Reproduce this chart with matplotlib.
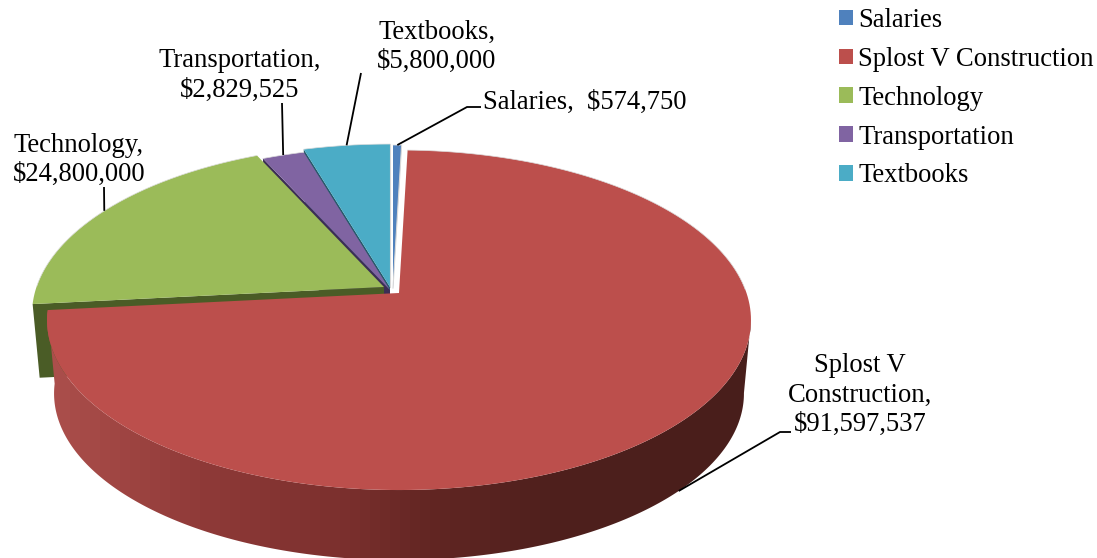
import matplotlib
matplotlib.use("Agg")
import matplotlib.pyplot as plt
from matplotlib.patches import Patch, Polygon
from matplotlib.colors import to_rgb
import numpy as np

plt.rcParams['font.family'] = ['Liberation Serif', 'DejaVu Serif']

categories = ['Salaries', 'Splost V Construction', 'Technology', 'Transportation', 'Textbooks']
amounts = [574750, 91597537, 24800000, 2829525, 5800000]
slice_labels = ['Salaries,  $574,750', 'Splost V\nConstruction,\n$91,597,537',
                'Technology,\n$24,800,000', 'Transportation,\n$2,829,525',
                'Textbooks,\n$5,800,000']
colors = ['#4F81BD', '#BC4F4C', '#9BBB59', '#8064A2', '#4BACC6']
cut_colors = [None, None, '#4A5C26', '#3C2E55', '#25596A']

# where each exploded slice has its apex
apex = {0: (393, 288), 1: (399, 293), 2: (384, 287), 3: (390, 290), 4: (390, 287)}

# perspective disc
RX, RY, TILT = 347.5, 165.7, 0.159
DEPTH, BOTTOM_SCALE = 74, 0.98

FS = 19.2

def rim(theta, center, bottom=False):
    # theta in degrees, clockwise from twelve o'clock
    t = np.radians(theta)
    u, v = np.sin(t), np.cos(t)
    w = 1 + TILT * v
    s = BOTTOM_SCALE if bottom else 1.0
    dy = DEPTH if bottom else 0
    return center[0] + s * RX * u / w, center[1] + dy - s * RY * v / w

spans = 360 * np.array(amounts) / sum(amounts)
starts = np.concatenate([[0], np.cumsum(spans)[:-1]])
ends = starts + spans

fig = plt.figure(figsize=(10.97, 5.58), dpi=100)
ax = fig.add_axes([0, 0, 1, 1])
ax.set_xlim(0, 1097)
ax.set_ylim(558, 0)
ax.axis('off')

# back to front so nearer slices hide the cut faces behind them
for i in [0, 4, 3, 2, 1]:
    c = apex[i]
    if cut_colors[i]:
        tx, ty = rim(starts[i], c)
        bx, by = rim(starts[i], c, bottom=True)
        ax.fill([c[0], tx, bx, c[0]], [c[1], ty, by, c[1] + DEPTH],
                color=cut_colors[i], lw=0)
    if i == 1:
        # outer wall of the big slice, from the widest point round to its far end,
        # a left to right shade clipped to that outline
        arc = np.linspace(99, ends[i], 300)
        tx, ty = rim(arc, c)
        bx, by = rim(arc, c, bottom=True)
        wall = Polygon(np.c_[np.r_[tx, bx[::-1]], np.r_[ty, by[::-1]]], closed=True,
                       facecolor='none', edgecolor='none', transform=ax.transData)
        ax.add_patch(wall)
        shade_x = [40, 70, 200, 350, 430, 550, 760]
        shade_c = ['#AE504D', '#A84C49', '#8F3A38', '#7A2F2D', '#622623', '#4F201D', '#481E1B']
        rgb = np.array([to_rgb(s) for s in shade_c])
        cols = np.linspace(40, 760, 72)
        strip = np.stack([np.interp(cols, shade_x, rgb[:, k]) for k in range(3)], axis=-1)[None, :, :]
        im = ax.imshow(strip, extent=(40, 760, 558, 300), aspect='auto',
                       interpolation='nearest', zorder=1)
        im.set_clip_path(wall)
    arc = np.linspace(starts[i], ends[i], 200)
    px, py = rim(arc, c)
    ax.fill(np.r_[c[0], px], np.r_[c[1], py], facecolor=colors[i], lw=0)
    # pale bevel along the far rim, and down the sides of the narrow slices
    far = np.cos(np.radians(arc)) > 0
    ax.plot(px[far], py[far], color='#DDDDDD', lw=0.5)
    if i in (0, 4):
        ax.plot([px[-1], c[0]], [py[-1], c[1]], color='#D8D8D8', lw=0.8)

ax.set_xlim(0, 1097)
ax.set_ylim(558, 0)

# leader lines, anchored on the middle of each slice's rim
mids = (starts + ends) / 2
elbows = [[(467, 107), (481, 107)], [(780, 432), (791, 432)], [(104, 187)], [(282, 103)], [(361, 73)]]
for i in range(len(amounts)):
    px, py = rim(mids[i], apex[i], bottom=(i == 1))
    xs = [px] + [e[0] for e in elbows[i]]
    ys = [py] + [e[1] for e in elbows[i]]
    ax.plot(xs, ys, color='black', lw=1.3, solid_capstyle='butt', solid_joinstyle='miter')

label_pos = [(483, 102, 'left'), (860, 395, 'center'), (79, 160, 'center'),
             (240, 75.5, 'center'), (437, 47, 'center')]
for lab, (x, y, ha) in zip(slice_labels, label_pos):
    ax.text(x, y, lab, fontsize=FS, ha=ha, va='center', linespacing=1.23, color='black')

handles = [Patch(facecolor=c, edgecolor='none') for c in colors]
ax.legend(handles, categories, loc='upper left', bbox_to_anchor=(839 / 1097, 1 - 8 / 558),
          frameon=False, fontsize=FS, borderpad=0, borderaxespad=0,
          handlelength=0.53, handleheight=0.53, handletextpad=0.2, labelspacing=0.52)

fig.savefig('out.png', dpi=100)
